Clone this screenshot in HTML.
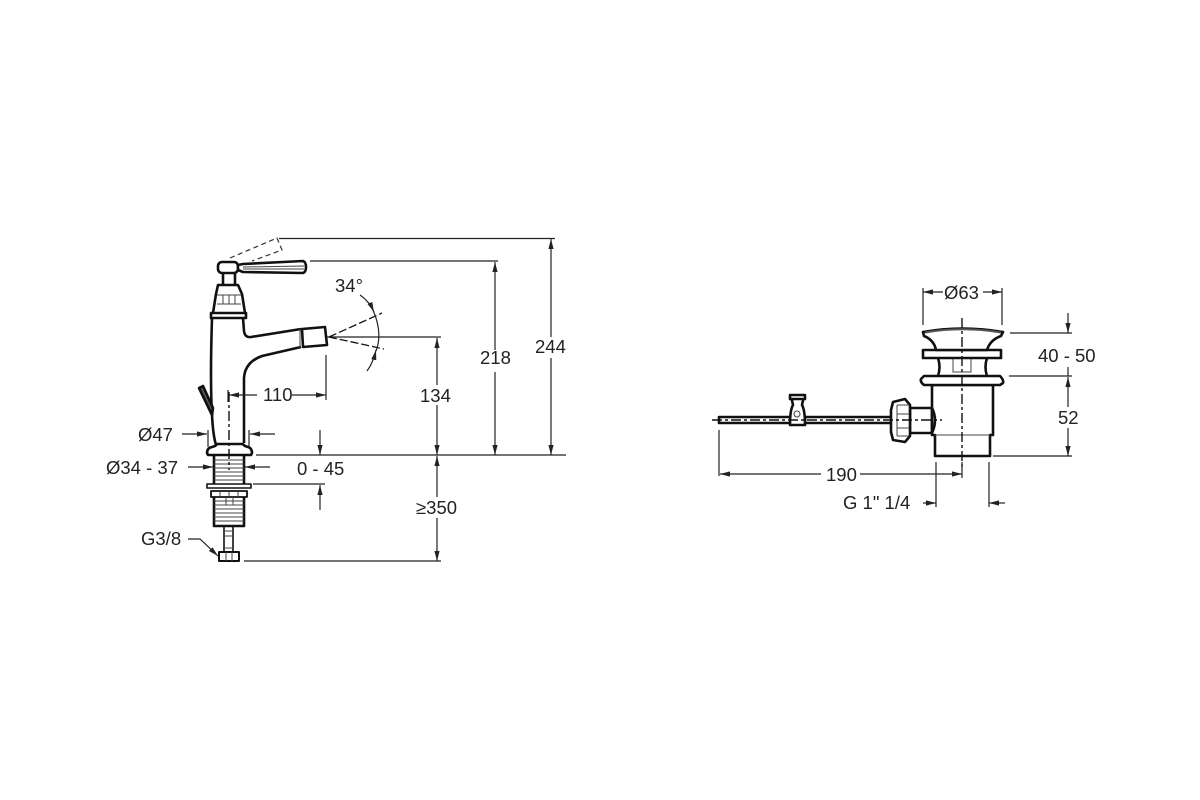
<!DOCTYPE html>
<html><head><meta charset="utf-8"><style>
html,body{margin:0;padding:0;background:#fff}
svg{display:block}
text{font-family:"Liberation Sans",sans-serif;font-size:18.5px;fill:#222}
.o{fill:#fff;stroke:#111;stroke-width:2.6;stroke-linejoin:round}
.n{fill:none;stroke:#111;stroke-width:2.6;stroke-linejoin:round}
.t{fill:none;stroke:#444;stroke-width:1}
.d{fill:none;stroke:#222;stroke-width:1.2}
.a{fill:none;stroke:#222;stroke-width:1.2;marker-end:url(#ar)}
.c{fill:none;stroke:#111;stroke-width:1.4;stroke-dasharray:10 3 3 3}
.h{fill:none;stroke:#333;stroke-width:1.2;stroke-dasharray:5 3.5}
</style></head><body>
<svg width="1200" height="800" viewBox="0 0 1200 800" xmlns="http://www.w3.org/2000/svg">
<defs><marker id="ar" markerUnits="userSpaceOnUse" markerWidth="10" markerHeight="6" refX="10" refY="3" orient="auto"><path d="M0 0.4L10 3L0 5.6Z" fill="#222"/></marker></defs>
<rect width="1200" height="800" fill="#fff"/>

<!-- faucet dashed handle -->
<path class="h" d="M230 258L277 238L282 250L252 261"/>
<!-- body -->
<path class="n" d="M212 318Q210 380 212 415Q213 435 216 445M243 318L244 331Q245 338 251 337L301 329M301 347L262 356Q245 362 244 378L244 443"/>
<path class="o" d="M207 453Q207 448 212 447Q216 446 217 444L243 444Q244 446 248 447Q252 448 252 453L251 455L208 455Z"/>
<path class="o" d="M211 313H246V318H211Z"/>
<path class="n" d="M213 313L216 294L218 285H238L242 294L245 313"/>
<path class="t" d="M217 295H241M217 304H241M223 295V304M229 295V304M235 295V304"/>
<path class="n" d="M223 273V285M235 273V285"/>
<rect class="o" x="218" y="262" width="20" height="11" rx="4"/>
<path class="o" d="M238 265L243 264L303 261Q306 262 306 267Q306 272 303 273L243 272L238 270Z"/>
<path class="t" d="M243 267L304 266M243 269L304 269"/>
<!-- spout end -->
<path class="o" d="M302 329L325 327L327 345L303 347Z"/>
<path class="t" d="M300 329V347"/>
<!-- lever -->
<path class="o" d="M199 388L203 386L213 408L212 415Z" style="fill:#555"/>
<!-- shank -->
<path class="n" d="M214 456V485M244 456V485M214 497V526H244V497"/>
<path class="t" d="M214 460H244M214 464H244M214 468H244M214 472H244M214 476H244M214 480H244M214 501H244M214 505H244M214 509H244M214 513H244M214 517H244M214 521H244"/>
<rect class="o" x="207" y="484" width="44" height="4" style="stroke-width:1.6"/>
<rect class="o" x="211" y="491" width="36" height="6" style="stroke-width:1.8"/>
<path class="t" d="M220 491V497M229 491V497M238 491V497M226 497V505H233V497"/>
<path class="n" d="M224 526V552M233 526V552" style="stroke-width:1.6"/>
<path class="t" d="M224 531H233M224 536H233M224 548H233"/>
<rect class="o" x="219" y="552" width="20" height="9" style="stroke-width:2"/>
<path class="t" d="M226 552V561M232 552V561"/>
<!-- centerlines -->
<path class="c" d="M229 392V470"/>
<path class="d" d="M327 337H441" />
<path d="M329 337L382 313M329 337L384 349" fill="none" stroke="#111" stroke-width="1.3" stroke-dasharray="8 3"/>

<!-- faucet dims -->
<path class="d" d="M279 238.5H555M310 261H498M256 455H566M253 484H325M244 561H441"/>
<path class="a" d="M551 337V239"/><path class="a" d="M551 358V455"/>
<path class="a" d="M495 350V262"/><path class="a" d="M495 372V455"/>
<path class="a" d="M437 385V338"/><path class="a" d="M437 405V455"/>
<path class="a" d="M437 497V456"/><path class="a" d="M437 518V561"/>
<path class="a" d="M320 430V455"/><path class="a" d="M320 510V485"/>
<path class="a" d="M257 395H229"/><path class="a" d="M292 395H326"/>
<path class="d" d="M326 355V400M228 390V402"/>
<path class="a" d="M182 434H207"/><path class="a" d="M275 434H250"/>
<path class="d" d="M208 430V447M249 430V447"/>
<path class="a" d="M188 467H213"/><path class="a" d="M270 467H245"/>
<path class="a" d="M188 539H200L218 556"/>
<path class="a" d="M360 295Q369 301 374 312"/>
<path class="d" d="M373 310Q383 333 376 351"/>
<path class="a" d="M367 371Q373 363 376 350"/>

<text x="335" y="292">34°</text>
<text x="480" y="364">218</text>
<text x="535" y="353">244</text>
<text x="420" y="402">134</text>
<text x="263" y="401">110</text>
<text x="138" y="441">Ø47</text>
<text x="106" y="474">Ø34 - 37</text>
<text x="297" y="475">0 - 45</text>
<text x="416" y="514">≥350</text>
<text x="141" y="545">G3/8</text>

<!-- waste -->
<rect class="o" x="719" y="417" width="72" height="6"/>
<rect class="o" x="805" y="417" width="87" height="6"/>
<path class="o" d="M791 396H804L802 405Q805 410 805 425H790Q790 410 793 405Z"/>
<rect class="o" x="790" y="395" width="15" height="4"/>
<circle class="t" cx="797" cy="414" r="3"/>
<path class="o" d="M932 408H910V433H932Z"/>
<path class="o" d="M893 402L905 399L910 405V436L905 442L893 440L891 432V410Z"/>
<path class="t" d="M897 405H909M897 414H909M897 428H909M897 436H909M897 405V436"/>
<path class="o" d="M932 385H993V435H990V456H935V435H932Z"/>
<path class="t" d="M935 435H990"/>
<path class="n" d="M932 408Q938 420 932 433"/>
<path class="o" d="M924 376H1000Q1004 380 1003 383L1000 385H924Q920 382 921 379Z"/>
<path class="n" d="M938 358Q941 367 938 376M987 358Q984 367 987 376"/>
<path class="t" d="M953 358V372H971V358"/>
<rect class="o" x="923" y="350" width="78" height="8"/>
<path class="o" d="M923 332Q962 325 1003 332L1001 336Q990 340 987 350H936Q934 340 924 336Z"/>
<path d="M925 332.5Q962 326 1001 332.5" fill="none" stroke="#555" stroke-width="2"/>
<path class="c" d="M962 318V470"/>
<path class="c" d="M712 420H942"/>

<!-- waste dims -->
<path class="d" d="M923 288V325M1002 288V325"/>
<path class="a" d="M943 292H923"/><path class="a" d="M983 292H1002"/>
<path class="d" d="M1010 333H1072M1009 376H1072M993 456H1072"/>
<path class="a" d="M1068 313V333"/><path class="d" d="M1068 367V376"/>
<path class="a" d="M1068 407V377"/><path class="a" d="M1068 428V456"/>
<path class="d" d="M719 430V476M936 462V507M962 462V478M989 462V507"/>
<path class="a" d="M821 474H720"/><path class="a" d="M860 474H962"/>
<path class="a" d="M923 503H936"/><path class="a" d="M1005 503H989"/>

<text x="944" y="299">Ø63</text>
<text x="1038" y="362">40 - 50</text>
<text x="1058" y="424">52</text>
<text x="826" y="481">190</text>
<text x="843" y="509">G 1" 1/4</text>
</svg>
</body></html>
